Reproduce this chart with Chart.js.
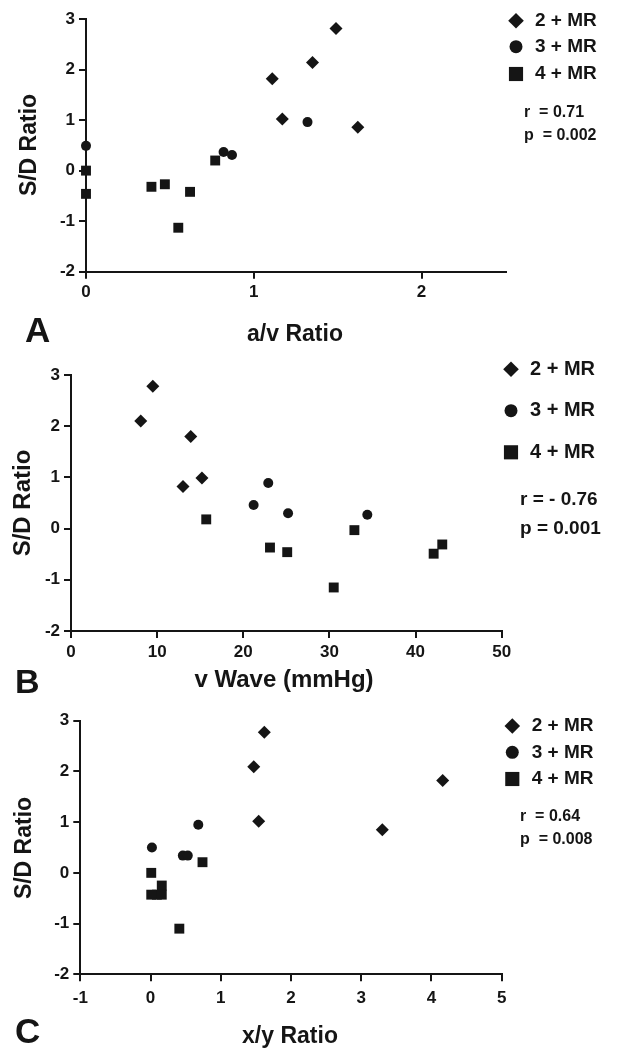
<!DOCTYPE html>
<html>
<head>
<meta charset="utf-8">
<script src="https://cdn.jsdelivr.net/npm/chart.js@4.4.1/dist/chart.umd.min.js"></script>
<style>
  html, body { margin: 0; padding: 0; background: #fff; }
  #wrap { position: relative; width: 624px; height: 1048px; overflow: hidden; }
  canvas { position: absolute; left: 0; }
</style>
</head>
<body>
<div id="wrap">
  <canvas id="chartA" width="624" height="350" style="top:0"></canvas>
  <canvas id="chartB" width="624" height="350" style="top:350px"></canvas>
  <canvas id="chartC" width="624" height="348" style="top:700px"></canvas>
</div>
<script>
const seriesLabels = ["2 + MR", "3 + MR", "4 + MR"];
const yTicks = [-2, -1, 0, 1, 2, 3];

// A: a/v ratio
const aXTicks = [0, 1, 2];
const aDiamondX = [1.11, 1.49, 1.35, 1.17, 1.62];
const aDiamondY = [1.82, 2.81, 2.14, 1.02, 0.86];
const aCircleX = [0, 0.82, 0.87, 1.32];
const aCircleY = [0.49, 0.37, 0.31, 0.96];
const aSquareX = [0, 0, 0.39, 0.47, 0.62, 0.55, 0.77];
const aSquareY = [0, -0.46, -0.32, -0.27, -0.42, -1.13, 0.20];

// B: v wave (mmHg)
const bXTicks = [0, 10, 20, 30, 40, 50];
const bDiamondX = [8.1, 9.5, 13.9, 13.0, 15.2];
const bDiamondY = [2.10, 2.78, 1.80, 0.82, 0.99];
const bCircleX = [22.9, 21.2, 25.2, 34.4];
const bCircleY = [0.89, 0.46, 0.30, 0.27];
const bSquareX = [15.7, 23.1, 25.1, 30.5, 32.9, 42.1, 43.1];
const bSquareY = [0.18, -0.37, -0.46, -1.15, -0.03, -0.49, -0.31];

// C: x/y ratio
const cXTicks = [-1, 0, 1, 2, 3, 4, 5];
const cDiamondX = [1.62, 1.47, 1.54, 3.30, 4.16];
const cDiamondY = [2.77, 2.09, 1.02, 0.85, 1.82];
const cCircleX = [0.02, 0.46, 0.53, 0.68];
const cCircleY = [0.50, 0.34, 0.34, 0.95];
const cSquareX = [0.01, 0.01, 0.09, 0.16, 0.16, 0.41, 0.74];
const cSquareY = [0, -0.43, -0.43, -0.25, -0.43, -1.10, 0.21];

const INK = "#151515";
const FONT = '"Liberation Sans", Arial, Helvetica, sans-serif';
const markers = [
  { style: "rectRot", r: 6.5, legendR: 7.8 },
  { style: "circle", r: 5, legendR: 6.5 },
  { style: "rect", r: 7, legendR: 10 }
];

function pts(xs, ys) {
  return xs.map((x, i) => ({ x: x, y: ys[i] }));
}

function makePanel(canvasId, p) {
  const canvas = document.getElementById(canvasId);
  const W = canvas.width, H = canvas.height;
  const tickFont = { family: FONT, size: p.tickSize, weight: "bold" };

  const datasets = p.series.map((s, i) => ({
    label: seriesLabels[i],
    data: pts(s[0], s[1]),
    pointStyle: markers[i].style,
    pointRadius: markers[i].r,
    pointHoverRadius: markers[i].r,
    pointBackgroundColor: INK,
    pointBorderColor: INK,
    pointBorderWidth: 0,
    showLine: false,
    clip: false
  }));

  /* ---------- labels, legend, stats ---------- */
  const notes = {
    id: "notes",
    afterDraw(chart) {
      const ctx = chart.ctx;
      ctx.save();
      ctx.fillStyle = INK;

      ctx.font = "bold " + p.letterSize + "px " + FONT;
      ctx.textAlign = "left";
      ctx.textBaseline = "alphabetic";
      ctx.fillText(p.letter, p.letterX, p.letterY);

      ctx.font = "bold " + p.titleSize + "px " + FONT;
      ctx.textAlign = "center";
      ctx.fillText(p.xTitle, p.xTitleX, p.xTitleY);

      ctx.save();
      ctx.translate(p.yTitleX, p.yTitleY);
      ctx.rotate(-Math.PI / 2);
      ctx.textBaseline = "middle";
      ctx.fillText("S/D Ratio", 0, 0);
      ctx.restore();

      ctx.font = "bold " + p.legendSize + "px " + FONT;
      ctx.textAlign = "left";
      ctx.textBaseline = "middle";
      p.legendY.forEach((y, i) => {
        Chart.helpers.drawPoint(ctx, { pointStyle: markers[i].style, radius: markers[i].legendR, borderWidth: 0, rotation: 0 }, p.legendMarkX, y);
        ctx.fillText(seriesLabels[i], p.legendTextX, y);
      });

      ctx.font = "bold " + p.statsSize + "px " + FONT;
      p.stats.forEach((t, i) => ctx.fillText(t, p.statsX, p.statsY[i]));
      ctx.restore();
    }
  };

  return new Chart(canvas.getContext("2d"), {
    type: "scatter",
    data: { datasets: datasets },
    options: {
      responsive: false,
      animation: false,
      devicePixelRatio: 1,
      events: [],
      layout: { padding: { left: 0, top: p.area.top, right: W - p.area.right, bottom: 0 } },
      plugins: { legend: { display: false }, tooltip: { enabled: false } },
      scales: {
        x: {
          type: "linear",
          min: p.xMin,
          max: p.xMax,
          afterBuildTicks: s => { s.ticks = p.xTicks.map(v => ({ value: v })); },
          afterFit: s => { s.height = H - p.area.bottom; },
          border: { display: true, color: INK, width: 2 },
          grid: { drawOnChartArea: false, drawTicks: true, tickLength: 7, color: INK, lineWidth: 2 },
          ticks: { color: INK, font: tickFont, padding: p.xPad, maxRotation: 0, autoSkip: false }
        },
        y: {
          type: "linear",
          min: -2,
          max: 3,
          afterBuildTicks: s => { s.ticks = yTicks.map(v => ({ value: v })); },
          afterFit: s => { s.width = p.area.left; },
          border: { display: true, color: INK, width: 2 },
          grid: { drawOnChartArea: false, drawTicks: true, tickLength: 7, color: INK, lineWidth: 2 },
          ticks: { color: INK, font: tickFont, padding: 4, autoSkip: false }
        }
      }
    },
    plugins: [notes]
  });
}

makePanel("chartA", {
  series: [[aDiamondX, aDiamondY], [aCircleX, aCircleY], [aSquareX, aSquareY]],
  xMin: 0, xMax: 2.5, xTicks: aXTicks, xPad: 3,
  area: { left: 86, top: 19, right: 505.5, bottom: 271.7 },
  tickSize: 17,
  letter: "A", letterX: 25, letterY: 342, letterSize: 35,
  xTitle: "a/v Ratio", xTitleX: 295, xTitleY: 341, titleSize: 23,
  yTitleX: 30, yTitleY: 145,
  legendMarkX: 516, legendTextX: 535, legendY: [20.7, 46.7, 74], legendSize: 19,
  stats: ["r  = 0.71", "p  = 0.002"], statsX: 524, statsY: [112.7, 135.7], statsSize: 16
});

makePanel("chartB", {
  series: [[bDiamondX, bDiamondY], [bCircleX, bCircleY], [bSquareX, bSquareY]],
  xMin: 0, xMax: 50, xTicks: bXTicks, xPad: 4,
  area: { left: 71, top: 25, right: 501.7, bottom: 281 },
  tickSize: 17,
  letter: "B", letterX: 15, letterY: 343, letterSize: 34,
  xTitle: "v Wave (mmHg)", xTitleX: 284, xTitleY: 337, titleSize: 24,
  yTitleX: 23, yTitleY: 153,
  legendMarkX: 511, legendTextX: 530, legendY: [19.3, 60.7, 102.3], legendSize: 20,
  stats: ["r = - 0.76", "p = 0.001"], statsX: 520, statsY: [150, 178.3], statsSize: 19
});

makePanel("chartC", {
  series: [[cDiamondX, cDiamondY], [cCircleX, cCircleY], [cSquareX, cSquareY]],
  xMin: -1, xMax: 5, xTicks: cXTicks, xPad: 7,
  area: { left: 80.3, top: 20.7, right: 501.7, bottom: 274.3 },
  tickSize: 17,
  letter: "C", letterX: 15, letterY: 343, letterSize: 35,
  xTitle: "x/y Ratio", xTitleX: 290, xTitleY: 343, titleSize: 23,
  yTitleX: 25, yTitleY: 148,
  legendMarkX: 512.3, legendTextX: 531.7, legendY: [26, 52.3, 79], legendSize: 19,
  stats: ["r  = 0.64", "p  = 0.008"], statsX: 520, statsY: [116.7, 140], statsSize: 16
});
</script>
</body>
</html>
